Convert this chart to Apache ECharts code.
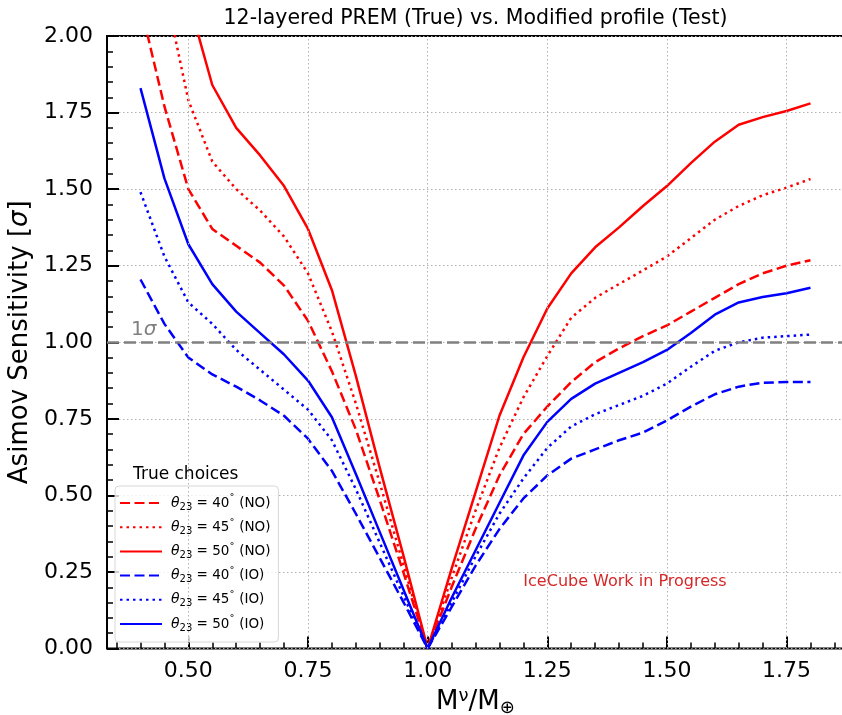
<!DOCTYPE html>
<html><head><meta charset="utf-8">
<script src="https://cdn.jsdelivr.net/npm/echarts@6/dist/echarts.min.js"></script>
<style>html,body{margin:0;padding:0;background:#fff}#c{width:842px;height:715px}</style>
</head><body><div id="c"></div>
<script>
// ---- data ----
const xValues = [0.40,0.45,0.50,0.55,0.60,0.65,0.70,0.75,0.80,0.85,0.90,0.95,1.00,1.05,1.10,1.15,1.20,1.25,1.30,1.35,1.40,1.45,1.50,1.55,1.60,1.65,1.70,1.75,1.80];
const no40 = [2.10,1.77,1.50,1.37,1.315,1.26,1.185,1.07,0.905,0.715,0.485,0.245,0.0,0.20,0.39,0.565,0.70,0.79,0.87,0.935,0.98,1.02,1.055,1.10,1.145,1.19,1.225,1.25,1.268];
const no45 = [2.50,2.16,1.79,1.59,1.50,1.43,1.345,1.225,1.035,0.80,0.54,0.27,0.0,0.23,0.45,0.655,0.82,0.955,1.08,1.145,1.19,1.235,1.28,1.34,1.40,1.445,1.48,1.505,1.533];
const no50 = [2.70,2.40,2.12,1.84,1.70,1.61,1.51,1.37,1.17,0.89,0.59,0.30,0.0,0.26,0.51,0.76,0.95,1.11,1.225,1.31,1.375,1.445,1.51,1.585,1.655,1.71,1.735,1.755,1.78];
const io40 = [1.205,1.06,0.95,0.895,0.855,0.81,0.76,0.685,0.58,0.44,0.295,0.15,0.0,0.135,0.27,0.39,0.49,0.565,0.62,0.65,0.68,0.705,0.745,0.79,0.83,0.855,0.868,0.87,0.87];
const io45 = [1.49,1.28,1.13,1.06,0.975,0.91,0.845,0.78,0.68,0.52,0.345,0.17,0.0,0.15,0.30,0.44,0.555,0.655,0.725,0.765,0.795,0.825,0.865,0.92,0.972,1.0,1.015,1.02,1.025];
const io50 = [1.83,1.535,1.32,1.19,1.10,1.03,0.96,0.875,0.755,0.57,0.38,0.19,0.0,0.165,0.32,0.475,0.63,0.74,0.815,0.865,0.90,0.935,0.975,1.03,1.09,1.13,1.148,1.16,1.178];
const seriesNames = ['θ23 = 40° (NO)','θ23 = 45° (NO)','θ23 = 50° (NO)','θ23 = 40° (IO)','θ23 = 45° (IO)','θ23 = 50° (IO)'];
const xMajorTicks = [0.50,0.75,1.00,1.25,1.50,1.75];
const xMinorTicks = [0.35,0.40,0.45,0.55,0.60,0.65,0.70,0.80,0.85,0.90,0.95,1.05,1.10,1.15,1.20,1.30,1.35,1.40,1.45,1.55,1.60,1.65,1.70,1.80,1.85];
const sigmaLevel = 1.0;
const titleText = '12-layered PREM (True) vs. Modified profile (Test)';
const legendTitle = 'True choices';
const wipText = 'IceCube Work in Progress';
const wipPos = [1.2, 0.2];
const sigmaPos = [0.38, 1.02];

// ---- styles ----
const FONT = 'DejaVu Sans';
const RED = '#ff0000', BLUE = '#0000ff';
const DASH = [10, 4.5], DOT = [2.5, 4];
const lineStyles = [
  {color: RED, type: DASH}, {color: RED, type: DOT}, {color: RED, type: 'solid'},
  {color: BLUE, type: DASH}, {color: BLUE, type: DOT}, {color: BLUE, type: 'solid'}
];
const allData = [no40, no45, no50, io40, io45, io50];

const series = allData.map((arr, i) => ({
  name: seriesNames[i], type: 'line', symbol: 'none', z: 3,
  clip: true,
  data: xValues.map((x, j) => [x, arr[j]]),
  lineStyle: {width: 2.5, color: lineStyles[i].color, type: lineStyles[i].type, cap: 'butt'},
  itemStyle: {color: lineStyles[i].color},
  emphasis: {disabled: true}
}));
series.unshift({
  name: '_grid', type: 'line', symbol: 'none', z: 1, silent: true,
  data: [], lineStyle: {opacity: 0},
  markLine: {
    silent: true, symbol: 'none', label: {show: false}, animation: false,
    lineStyle: {type: [1.5, 2.5], color: '#b0b0b0', width: 1},
    data: xMajorTicks.map(v => ({xAxis: v}))
  }
});
series.push({
  name: '_sigma', type: 'line', symbol: 'none', z: 2, silent: true,
  data: [], lineStyle: {opacity: 0},
  markLine: {
    silent: true, symbol: 'none', label: {show: false}, animation: false,
    lineStyle: {type: [12, 5], color: '#808080', width: 2.5},
    data: [{yAxis: sigmaLevel}]
  }
});

const gridLeft = 107, gridTop = 36, gridW = 737, gridH = 612.5;

const option = {
  animation: false,
  backgroundColor: '#ffffff',
  grid: {left: gridLeft, top: gridTop, width: gridW, height: gridH, show: true, borderColor: '#000', borderWidth: 2,
         backgroundColor: 'transparent', containLabel: false, outerBoundsMode: 'none'},
  xAxis: [
    {type: 'value', min: 0.33, max: 1.87, position: 'bottom',
     axisLine: {show: false},
     axisTick: {show: true, inside: true, length: 6, customValues: xMinorTicks, lineStyle: {color: '#000', width: 1.5}},
     axisLabel: {show: false}, splitLine: {show: false}},
    {type: 'value', min: 0.33, max: 1.87, position: 'bottom',
     axisLine: {show: false},
     axisTick: {show: true, inside: true, length: 12, customValues: xMajorTicks, lineStyle: {color: '#000', width: 2}},
     axisLabel: {show: true, customValues: xMajorTicks, formatter: v => v.toFixed(2), fontSize: 22, color: '#000', fontFamily: FONT, margin: 12},
     splitLine: {show: false},
     name: '{m|M}{sup|ν}{m|/M}{sub|⊕}', nameLocation: 'middle', nameGap: 33,
     nameTextStyle: {fontFamily: FONT, color: '#000', rich: {
       m: {fontSize: 26, fontFamily: FONT, color: '#000', lineHeight: 30},
       sup: {fontSize: 18, fontFamily: FONT, color: '#000', verticalAlign: 'top', lineHeight: 18},
       sub: {fontSize: 18, fontFamily: FONT, color: '#000', verticalAlign: 'bottom', lineHeight: 18}
     }}}
  ],
  yAxis: [{
    type: 'value', min: 0, max: 2, interval: 0.25,
    axisLine: {show: false},
    axisTick: {show: true, inside: true, length: 12, lineStyle: {color: '#000', width: 2}},
    minorTick: {show: true, splitNumber: 5, length: 6, lineStyle: {color: '#000', width: 1.5}},
    axisLabel: {formatter: v => v.toFixed(2), fontSize: 22, color: '#000', fontFamily: FONT, margin: 14},
    splitLine: {show: true, lineStyle: {type: [1.5, 2.5], color: '#b0b0b0', width: 1}},
    name: 'Asimov Sensitivity [{it|σ}]', nameLocation: 'middle', nameGap: 66,
    nameTextStyle: {fontSize: 26, fontFamily: FONT, color: '#000', rich: {
      it: {fontSize: 26, fontFamily: FONT, fontStyle: 'italic', color: '#000'}
    }}
  }],
  legend: {
    orient: 'vertical', left: 115, top: 486, padding: [8, 8, 9, 4], itemGap: 6.2,
    itemWidth: 42, itemHeight: 14,
    backgroundColor: 'rgba(255,255,255,0.8)', borderColor: '#d8d8d8', borderWidth: 1, borderRadius: 4,
    data: seriesNames,
    selectedMode: false,
    itemStyle: {opacity: 0, borderWidth: 0},
    formatter: name => {
      const m = name.match(/= (\d+)° \((\w+)\)/);
      return '{th|θ}{sub|23}{t| = ' + m[1] + '}{deg|˚}{t| (' + m[2] + ')}';
    },
    textStyle: {fontFamily: FONT, color: '#000', fontSize: 13.5, rich: {
      th: {fontSize: 14, fontStyle: 'italic', fontFamily: FONT, color: '#000', lineHeight: 18, padding: [0, 0, 0, 4]},
      sub: {fontSize: 10, fontFamily: FONT, color: '#000', verticalAlign: 'bottom', lineHeight: 12},
      t: {fontSize: 13.5, fontFamily: FONT, color: '#000', lineHeight: 18},
      deg: {fontSize: 11, fontFamily: FONT, color: '#000', verticalAlign: 'top', lineHeight: 12}
    }}
  },
  series: series
};

const chart = echarts.init(document.getElementById('c'));
chart.setOption(option);

const pw = chart.convertToPixel({xAxisIndex: 0, yAxisIndex: 0}, wipPos);
const ps = chart.convertToPixel({xAxisIndex: 0, yAxisIndex: 0}, sigmaPos);
chart.setOption({
  graphic: [
    {type: 'text', x: gridLeft + gridW / 2, y: 19, z: 10,
     style: {text: titleText, fontFamily: FONT, fontSize: 20.5, fill: '#000', align: 'center', verticalAlign: 'middle'}},
    {type: 'text', x: 133, y: 475, z: 10,
     style: {text: legendTitle, fontFamily: FONT, fontSize: 17, fill: '#000', align: 'left', verticalAlign: 'middle'}},
    {type: 'text', x: pw[0], y: pw[1] + 3, z: 10,
     style: {text: wipText, fontFamily: FONT, fontSize: 16, fill: '#d62728', align: 'left', verticalAlign: 'bottom'}},
    {type: 'text', x: ps[0], y: ps[1] + 4, z: 10,
     style: {text: '{n|1}{s|σ}', fontFamily: FONT, align: 'left', verticalAlign: 'bottom',
       rich: {n: {fontSize: 20, fontFamily: FONT, fill: '#808080'}, s: {fontSize: 20, fontFamily: FONT, fontStyle: 'italic', fill: '#808080'}}}}
  ]
});
</script>
</body></html>
